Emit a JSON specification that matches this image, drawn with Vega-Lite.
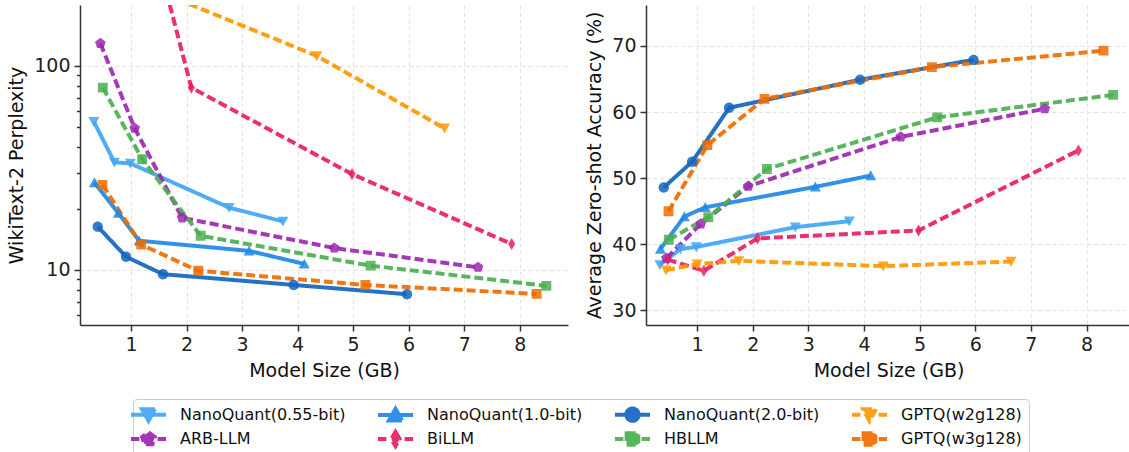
{
  "$schema": "https://vega.github.io/schema/vega-lite/v6.json",
  "padding": {"left": 7, "top": 5, "right": 0, "bottom": 0},
  "background": "white",
  "data": {"values": [
    {"m": "NanoQuant(0.55-bit)", "gb": 0.33, "ppl": 53.3, "acc": 36.9},
    {"m": "NanoQuant(0.55-bit)", "gb": 0.70, "ppl": 33.7, "acc": 39.3},
    {"m": "NanoQuant(0.55-bit)", "gb": 0.985, "ppl": 33.3, "acc": 39.6},
    {"m": "NanoQuant(0.55-bit)", "gb": 2.765, "ppl": 20.2, "acc": 42.6},
    {"m": "NanoQuant(0.55-bit)", "gb": 3.735, "ppl": 17.3, "acc": 43.5},
    {"m": "ARB-LLM", "gb": 0.447, "ppl": 129, "acc": 37.9},
    {"m": "ARB-LLM", "gb": 1.065, "ppl": 49.5, "acc": 43.1},
    {"m": "ARB-LLM", "gb": 1.92, "ppl": 18.0, "acc": 48.8},
    {"m": "ARB-LLM", "gb": 4.66, "ppl": 12.8, "acc": 56.25},
    {"m": "ARB-LLM", "gb": 7.25, "ppl": 10.3, "acc": 60.5},
    {"m": "NanoQuant(1.0-bit)", "gb": 0.34, "ppl": 26.8, "acc": 39.3},
    {"m": "NanoQuant(1.0-bit)", "gb": 0.77, "ppl": 19.0, "acc": 44.2},
    {"m": "NanoQuant(1.0-bit)", "gb": 1.145, "ppl": 13.9, "acc": 45.6},
    {"m": "NanoQuant(1.0-bit)", "gb": 3.125, "ppl": 12.4, "acc": 48.7},
    {"m": "NanoQuant(1.0-bit)", "gb": 4.12, "ppl": 10.7, "acc": 50.4},
    {"m": "BiLLM", "gb": 0.47, "ppl": 2500, "acc": 37.7},
    {"m": "BiLLM", "gb": 1.12, "ppl": 800, "acc": 36.0},
    {"m": "BiLLM", "gb": 2.085, "ppl": 78.3, "acc": 40.9},
    {"m": "BiLLM", "gb": 4.98, "ppl": 29.5, "acc": 42.1},
    {"m": "BiLLM", "gb": 7.855, "ppl": 13.4, "acc": 54.2},
    {"m": "NanoQuant(2.0-bit)", "gb": 0.40, "ppl": 16.3, "acc": 48.6},
    {"m": "NanoQuant(2.0-bit)", "gb": 0.91, "ppl": 11.6, "acc": 52.5},
    {"m": "NanoQuant(2.0-bit)", "gb": 1.575, "ppl": 9.53, "acc": 60.65},
    {"m": "NanoQuant(2.0-bit)", "gb": 3.93, "ppl": 8.44, "acc": 64.9},
    {"m": "NanoQuant(2.0-bit)", "gb": 5.97, "ppl": 7.6, "acc": 67.9},
    {"m": "HBLLM", "gb": 0.49, "ppl": 78.3, "acc": 40.7},
    {"m": "HBLLM", "gb": 1.20, "ppl": 34.9, "acc": 44.1},
    {"m": "HBLLM", "gb": 2.253, "ppl": 14.7, "acc": 51.4},
    {"m": "HBLLM", "gb": 5.315, "ppl": 10.5, "acc": 59.2},
    {"m": "HBLLM", "gb": 8.48, "ppl": 8.35, "acc": 62.6},
    {"m": "GPTQ(w2g128)", "gb": 0.44, "ppl": 4000, "acc": 36.1},
    {"m": "GPTQ(w2g128)", "gb": 1.0, "ppl": 900, "acc": 37.0},
    {"m": "GPTQ(w2g128)", "gb": 1.75, "ppl": 217, "acc": 37.5},
    {"m": "GPTQ(w2g128)", "gb": 4.345, "ppl": 112, "acc": 36.7},
    {"m": "GPTQ(w2g128)", "gb": 6.645, "ppl": 49.5, "acc": 37.4},
    {"m": "GPTQ(w3g128)", "gb": 0.485, "ppl": 26.1, "acc": 45.0},
    {"m": "GPTQ(w3g128)", "gb": 1.183, "ppl": 13.3, "acc": 55.0},
    {"m": "GPTQ(w3g128)", "gb": 2.21, "ppl": 9.9, "acc": 62.0},
    {"m": "GPTQ(w3g128)", "gb": 5.22, "ppl": 8.44, "acc": 66.8},
    {"m": "GPTQ(w3g128)", "gb": 8.305, "ppl": 7.63, "acc": 69.3}
  ]},
  "hconcat": [
    {
      "width": 488, "height": 320,
      "resolve": {"axis": {"y": "independent"}},
      "layer": [
        {
          "mark": {"type": "line", "clip": true},
          "encoding": {
            "x": {"field": "gb", "type": "quantitative", "scale": {"domain": [0.08, 8.87], "nice": false, "zero": false}, "axis": {"values": [1,2,3,4,5,6,7,8], "format": "d", "title": "Model Size (GB)", "grid": true}},
            "y": {"field": "ppl", "type": "quantitative", "scale": {"type": "log", "domain": [5.37, 199], "nice": false}, "axis": {"values": [10, 100], "format": "d", "title": "WikiText-2 Perplexity", "grid": true, "orient": "left", "tickSize": 6}},
            "color": {"field": "m", "type": "nominal", "scale": {"domain": ["NanoQuant(0.55-bit)","NanoQuant(1.0-bit)","NanoQuant(2.0-bit)","GPTQ(w2g128)","ARB-LLM","BiLLM","HBLLM","GPTQ(w3g128)"], "range": ["#42A5F5","#1E88E5","#1565C0","#FF9800","#9C27B0","#E91E63","#4CAF50","#EF6C00"]}, "legend": {
              "orient": "none", "legendX": 53, "legendY": 394, "title": null, "columns": 4, "direction": "horizontal",
              "labelFont": "DejaVu Sans", "labelFontSize": 16, "labelColor": "#111", "labelLimit": 400,
              "symbolSize": 169, "symbolStrokeWidth": 2, "labelOffset": 23, "columnPadding": 23, "rowPadding": -5.5,
              "padding": 7, "strokeColor": "#cccccc", "fillColor": "white", "cornerRadius": 4, "gridAlign": "each"
            }},
            "strokeDash": {"field": "m", "type": "nominal", "legend": null, "scale": {"domain": ["NanoQuant(0.55-bit)","NanoQuant(1.0-bit)","NanoQuant(2.0-bit)","GPTQ(w2g128)","ARB-LLM","BiLLM","HBLLM","GPTQ(w3g128)"], "range": [[1,0],[1,0],[1,0],[9,4],[9,4],[9,4],[9,4],[9,4]]}},
            "strokeWidth": {"field": "m", "type": "nominal", "legend": null, "scale": {"domain": ["NanoQuant(0.55-bit)","NanoQuant(1.0-bit)","NanoQuant(2.0-bit)","GPTQ(w2g128)","ARB-LLM","BiLLM","HBLLM","GPTQ(w3g128)"], "range": [4,4,4,2.5,2.5,2.5,2.5,2.5]}},
            "opacity": {"field": "m", "type": "nominal", "legend": null, "scale": {"domain": ["NanoQuant(0.55-bit)","NanoQuant(1.0-bit)","NanoQuant(2.0-bit)","GPTQ(w2g128)","ARB-LLM","BiLLM","HBLLM","GPTQ(w3g128)"], "range": [0.92,0.92,0.92,0.68,0.68,0.68,0.68,0.68]}}
          }
        },
        {
          "mark": {"type": "point", "filled": true, "size": 121, "opacity": 0.85, "clip": true},
          "encoding": {
            "x": {"field": "gb", "type": "quantitative", "axis": {"values": [1,2,3,4,5,6,7,8], "format": "d", "title": "Model Size (GB)", "grid": true}},
            "y": {"field": "ppl", "type": "quantitative", "axis": {"values": [6,7,8,9,20,30,40,50,60,70,80,90], "labels": false, "grid": false, "domain": false, "tickSize": 3.5, "title": null, "orient": "left"}},
            "color": {"field": "m", "type": "nominal"},
            "shape": {"field": "m", "type": "nominal", "legend": null, "scale": {"domain": ["NanoQuant(0.55-bit)","NanoQuant(1.0-bit)","NanoQuant(2.0-bit)","GPTQ(w2g128)","ARB-LLM","BiLLM","HBLLM","GPTQ(w3g128)"], "range": [
              "M-2.7,0H2.7M-1,-0.85L1,-0.85L0,0.95Z",
              "M-2.7,0H2.7M-1,0.85L1,0.85L0,-0.95Z",
              "M-2.7,0H2.7M-0.95,0A0.95,0.95,0,1,0,0.95,0A0.95,0.95,0,1,0,-0.95,0Z",
              "M-2.7,0H-1.4M1.4,0H2.7M-1,-0.85L1,-0.85L0,0.95Z",
              "M-2.7,0H-1.4M1.4,0H2.7M0,-1.02L0.97,-0.315L0.6,0.825L-0.6,0.825L-0.97,-0.315Z",
              "M-2.7,0H-1.4M1.4,0H2.7M0,-1.1L0.65,0L0,1.1L-0.65,0Z",
              "M-2.7,0H-1.4M1.4,0H2.7M-0.9,-0.9H0.9V0.9H-0.9Z",
              "M-2.7,0H-1.4M1.4,0H2.7M-0.9,-0.9H0.9V0.9H-0.9Z"
            ]}}
          }
        }
      ]
    },
    {
      "width": 485, "height": 320,
      "layer": [
        {
          "mark": {"type": "line", "clip": true},
          "encoding": {
            "x": {"field": "gb", "type": "quantitative", "scale": {"domain": [0.08, 8.8], "nice": false, "zero": false}, "axis": {"values": [1,2,3,4,5,6,7,8], "format": "d", "title": "Model Size (GB)", "grid": true}},
            "y": {"field": "acc", "type": "quantitative", "scale": {"domain": [27.8, 76.2], "nice": false, "zero": false}, "axis": {"values": [30,40,50,60,70], "format": "d", "title": "Average Zero-shot Accuracy (%)", "grid": true, "tickSize": 6}},
            "color": {"field": "m", "type": "nominal"},
            "strokeDash": {"field": "m", "type": "nominal", "legend": null},
            "strokeWidth": {"field": "m", "type": "nominal", "legend": null},
            "opacity": {"field": "m", "type": "nominal", "legend": null}
          }
        },
        {
          "mark": {"type": "point", "filled": true, "size": 121, "opacity": 0.85, "clip": true},
          "encoding": {
            "x": {"field": "gb", "type": "quantitative", "axis": {"values": [1,2,3,4,5,6,7,8], "format": "d", "title": "Model Size (GB)", "grid": true}},
            "y": {"field": "acc", "type": "quantitative", "axis": {"values": [30,40,50,60,70], "format": "d", "title": "Average Zero-shot Accuracy (%)", "grid": true, "tickSize": 6}},
            "color": {"field": "m", "type": "nominal"},
            "shape": {"field": "m", "type": "nominal", "legend": null}
          }
        }
      ]
    }
  ],
  "spacing": 17,
  "config": {
    "font": "DejaVu Sans",
    "view": {"stroke": null},
    "axis": {
      "labelFont": "DejaVu Sans", "titleFont": "DejaVu Sans",
      "labelFontSize": 19, "titleFontSize": 19, "titleFontWeight": "normal",
      "labelColor": "#222", "titleColor": "#111",
      "domainColor": "#333", "domainWidth": 1.5, "tickColor": "#333", "tickWidth": 1.5, "tickSize": 6,
      "gridColor": "#e3e3e3", "gridDash": [4, 3], "gridWidth": 1,
      "labelPadding": 4, "titlePadding": 7
    }
  }
}
